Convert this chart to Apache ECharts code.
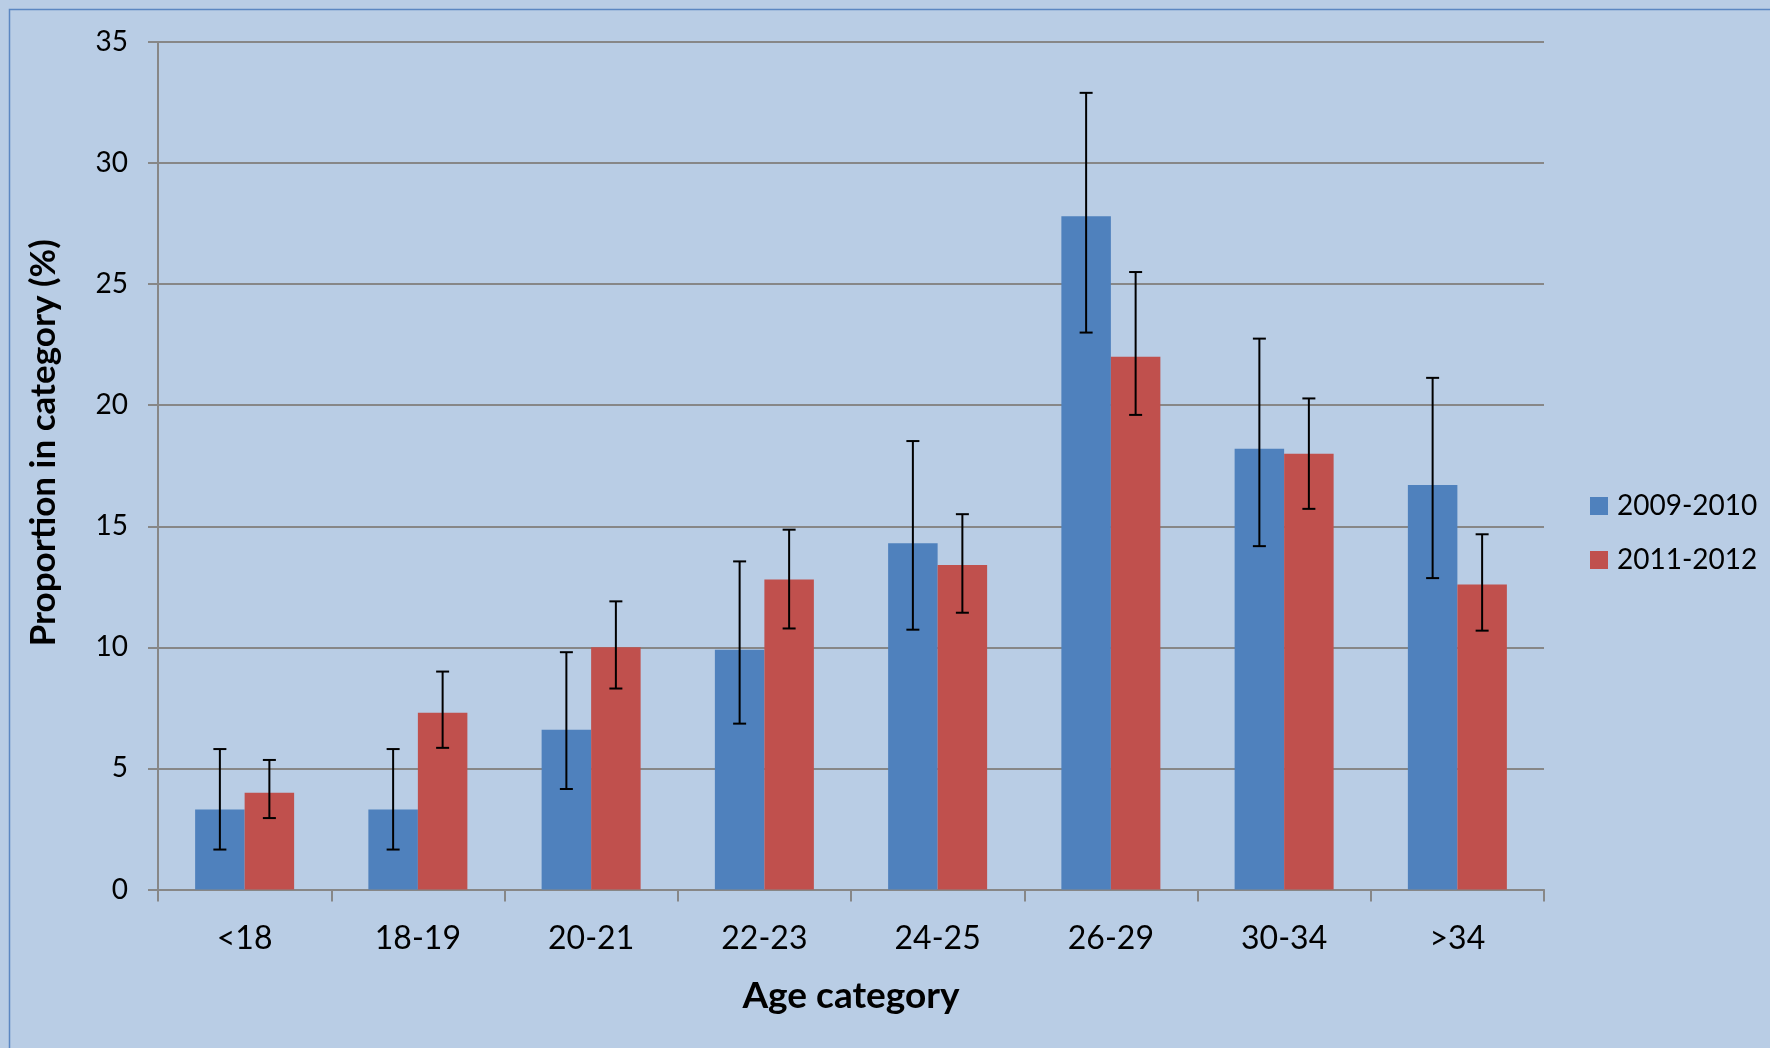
<!DOCTYPE html>
<html>
<head>
<meta charset="utf-8">
<script src="https://cdn.jsdelivr.net/npm/echarts@6/dist/echarts.min.js"></script>
<style>
  html, body { margin: 0; padding: 0; background: #B9CDE5; }
  #chart { width: 1770px; height: 1048px; }
</style>
</head>
<body>
<div id="chart"></div>
<script>
const categories = ['<18', '18-19', '20-21', '22-23', '24-25', '26-29', '30-34', '>34'];
const seriesNames = ['2009-2010', '2011-2012'];
const values2009 = [3.3, 3.3, 6.6, 9.9, 14.3, 27.8, 18.2, 16.7];
const errHigh2009 = [5.8, 5.8, 9.8, 13.55, 18.52, 32.9, 22.75, 21.13];
const errLow2009 = [1.65, 1.65, 4.15, 6.85, 10.73, 23.0, 14.18, 12.86];
const values2011 = [4.0, 7.3, 10.0, 12.8, 13.4, 22.0, 18.0, 12.6];
const errHigh2011 = [5.35, 9.0, 11.9, 14.86, 15.5, 25.5, 20.28, 14.67];
const errLow2011 = [2.95, 5.85, 8.3, 10.78, 11.43, 19.6, 15.72, 10.69];
const yTicks = [0, 5, 10, 15, 20, 25, 30, 35];

const FONT = 'Lato';
const chart = echarts.init(document.getElementById('chart'), null, { renderer: 'canvas' });

function errData(hi, lo) {
  return categories.map((c, i) => [i, lo[i], hi[i]]);
}
function errRender(side) {
  return function (params, api) {
    const idx = api.value(0);
    const lowPt = api.coord([idx, api.value(1)]);
    const highPt = api.coord([idx, api.value(2)]);
    const catW = api.size([1, 0])[0];
    const barW = catW / 3.5;
    const x = lowPt[0] + side * barW / 2;
    const hw = 6.5;
    const style = { stroke: '#000', lineWidth: 2 };
    return {
      type: 'group',
      children: [
        { type: 'line', shape: { x1: x, y1: highPt[1], x2: x, y2: lowPt[1] }, style },
        { type: 'line', shape: { x1: x - hw, y1: highPt[1], x2: x + hw, y2: highPt[1] }, style },
        { type: 'line', shape: { x1: x - hw, y1: lowPt[1], x2: x + hw, y2: lowPt[1] }, style }
      ]
    };
  };
}

const option = {
  backgroundColor: '#B9CDE5',
  animation: false,
  graphic: [{
    type: 'rect',
    shape: { x: 9.5, y: 9.5, width: 3000, height: 3000 },
    style: { fill: 'none', stroke: '#5B87C2', lineWidth: 1.5 },
    silent: true
  }],
  grid: { left: 158, right: 226, top: 42, bottom: 158.5, containLabel: false },
  legend: {
    orient: 'vertical',
    left: 1585,
    top: 486,
    itemWidth: 18,
    itemHeight: 18,
    itemGap: 24,
    icon: 'rect',
    data: seriesNames,
    textStyle: { fontFamily: FONT, fontSize: 28, color: '#000', lineHeight: 30, padding: [0, 0, 0, 4] }
  },
  xAxis: {
    type: 'category',
    data: categories,
    name: 'Age category',
    nameLocation: 'middle',
    nameGap: 88,
    nameTextStyle: { fontFamily: FONT, fontWeight: 'bold', fontSize: 37, color: '#000' },
    axisLine: { show: true, lineStyle: { color: '#878787', width: 2 } },
    axisTick: { show: true, length: 12, alignWithLabel: false, lineStyle: { color: '#878787', width: 2 } },
    axisLabel: { fontFamily: FONT, fontSize: 32, color: '#000', margin: 33 },
    splitLine: { show: false }
  },
  yAxis: {
    type: 'value',
    min: 0,
    max: 35,
    interval: 5,
    name: 'Proportion in category (%)',
    nameLocation: 'middle',
    nameGap: 97,
    nameRotate: 90,
    nameTextStyle: { fontFamily: FONT, fontWeight: 'bold', fontSize: 35, color: '#000', padding: [0, 0, 0, 46] },
    axisLine: { show: true, lineStyle: { color: '#878787', width: 2 } },
    axisTick: { show: true, length: 10, inside: false, lineStyle: { color: '#878787', width: 2 } },
    axisLabel: {
      fontFamily: FONT, fontSize: 28, color: '#000', margin: 30,
      formatter: v => yTicks.includes(v) ? String(v) : ''
    },
    splitLine: { show: true, lineStyle: { color: '#878787', width: 2 } }
  },
  series: [
    {
      name: seriesNames[0], type: 'bar', data: values2009,
      barGap: '0%', barCategoryGap: '42.857%',
      itemStyle: { color: '#4F81BD' }, z: 2
    },
    {
      name: seriesNames[1], type: 'bar', data: values2011,
      barGap: '0%', barCategoryGap: '42.857%',
      itemStyle: { color: '#C0504D' }, z: 2
    },
    {
      type: 'custom', name: 'err2009', renderItem: errRender(-1),
      data: errData(errHigh2009, errLow2009), encode: { x: 0, y: [1, 2] }, z: 5, silent: true
    },
    {
      type: 'custom', name: 'err2011', renderItem: errRender(1),
      data: errData(errHigh2011, errLow2011), encode: { x: 0, y: [1, 2] }, z: 5, silent: true
    }
  ]
};
chart.setOption(option);
</script>
</body>
</html>
